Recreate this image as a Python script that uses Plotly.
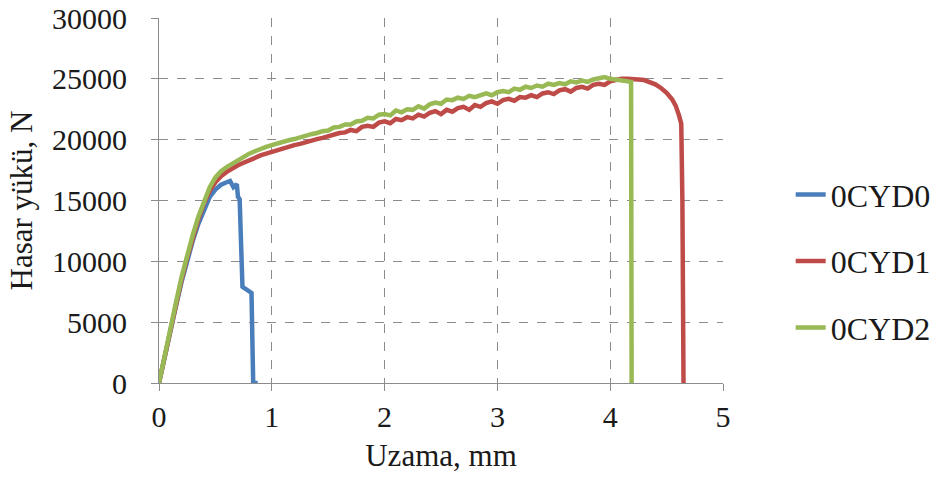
import plotly.graph_objects as go

# Elongation (mm) and failure load (N) for each specimen
x_0cyd0 = [0, 0.05, 0.1, 0.15, 0.2, 0.25, 0.3, 0.35, 0.4, 0.45, 0.5, 0.55, 0.6,
           0.63, 0.66, 0.69, 0.70, 0.715, 0.74, 0.80, 0.82, 0.835, 0.875]
y_0cyd0 = [0, 2200, 4300, 6300, 8300, 10100, 11700, 13100, 14300, 15300, 15900, 16300, 16500,
           16600, 16100, 16350, 15300, 15100, 7900, 7550, 7400, 0, 0]

x_0cyd1 = [0, 0.05, 0.1, 0.15, 0.2, 0.25, 0.3, 0.35, 0.4, 0.45, 0.5, 0.55, 0.6, 0.65, 0.7,
           0.75, 0.8, 0.85, 0.9, 0.95,
           1.00, 1.05, 1.10, 1.15, 1.20, 1.25, 1.30, 1.35, 1.40, 1.45,
           1.50, 1.55, 1.60, 1.65, 1.70, 1.75, 1.80, 1.85, 1.90, 1.95,
           2.00, 2.05, 2.10, 2.15, 2.20, 2.25, 2.30, 2.35, 2.40, 2.45,
           2.50, 2.55, 2.60, 2.65, 2.70, 2.75, 2.80, 2.85, 2.90, 2.95,
           3.00, 3.05, 3.10, 3.15, 3.20, 3.25, 3.30, 3.35, 3.40, 3.45,
           3.50, 3.55, 3.60, 3.65, 3.70, 3.75, 3.80, 3.85, 3.90, 3.95,
           4.00, 4.05, 4.10, 4.15, 4.20, 4.25, 4.30, 4.35, 4.40, 4.45,
           4.50, 4.55, 4.58, 4.61, 4.63, 4.64, 4.65]
y_0cyd1 = [0, 2200, 4400, 6500, 8500, 10300, 12000, 13500, 14800, 15800, 16500, 17000, 17350, 17650, 17900,
           18100, 18330, 18550, 18700, 18850,
           19000, 19150, 19300, 19400, 19550, 19650, 19800, 19900, 20050, 20150,
           20300, 20400, 20550, 20600, 20800, 20700, 21050, 21150, 21050, 21400,
           21500, 21350, 21700, 21600, 21850, 21750, 22050, 21900, 22200, 22350,
           22100, 22450, 22300, 22600, 22700, 22450, 22850, 22700, 23000, 23150,
           22950, 23250, 23350, 23200, 23500, 23450, 23650, 23500, 23800, 23900,
           23750, 24050, 24150, 23950, 24250, 24350, 24200, 24500, 24600, 24500,
           24800, 24900, 25000, 25000, 25000, 24950, 24900, 24750, 24550, 24250,
           23850, 23300, 22800, 22000, 21300, 15000, 0]

x_0cyd2 = [0, 0.05, 0.1, 0.15, 0.2, 0.25, 0.3, 0.35, 0.4, 0.45, 0.5, 0.55, 0.6, 0.65, 0.7,
           0.75, 0.8, 0.85, 0.9, 0.95,
           1.00, 1.05, 1.10, 1.15, 1.20, 1.25, 1.30, 1.35, 1.40, 1.45,
           1.50, 1.55, 1.60, 1.65, 1.70, 1.75, 1.80, 1.85, 1.90, 1.95,
           2.00, 2.05, 2.10, 2.15, 2.20, 2.25, 2.30, 2.35, 2.40, 2.45,
           2.50, 2.55, 2.60, 2.65, 2.70, 2.75, 2.80, 2.85, 2.90, 2.95,
           3.00, 3.05, 3.10, 3.15, 3.20, 3.25, 3.30, 3.35, 3.40, 3.45,
           3.50, 3.55, 3.60, 3.65, 3.70, 3.75, 3.80, 3.85, 3.90, 3.95,
           4.00, 4.05, 4.10, 4.15, 4.185, 4.19]
y_0cyd2 = [0, 2300, 4500, 6600, 8700, 10500, 12200, 13700, 15000, 16100, 16900, 17400, 17750, 18050, 18300,
           18600, 18850, 19050, 19250, 19400,
           19550, 19700, 19800, 19950, 20050, 20200, 20300, 20450, 20550, 20700,
           20750, 21000, 21050, 21250, 21250, 21500, 21550, 21800, 21750, 22050,
           22100, 22000, 22400, 22250, 22500, 22450, 22750, 22550, 22900, 23050,
           22950, 23300, 23250, 23450, 23350, 23600, 23500, 23700, 23800, 23650,
           23900, 24000, 23900, 24200, 24100, 24350, 24250, 24450, 24350, 24600,
           24500, 24650, 24550, 24800, 24700, 24850, 24750, 24950, 25050, 25150,
           25000, 24950, 24850, 24800, 24750, 0]

series_names = ["0CYD0", "0CYD1", "0CYD2"]
series_colors = ["#4A7EBB", "#BE4B48", "#98B954"]

x_ticks = [0, 1, 2, 3, 4, 5]
y_ticks = [0, 5000, 10000, 15000, 20000, 25000, 30000]

FONT = "Liberation Serif"
GRID = "#8C8C8C"
TEXT = "#1a1a1a"

fig = go.Figure()
for name, xs, ys, col in zip(series_names,
                             [x_0cyd0, x_0cyd1, x_0cyd2],
                             [y_0cyd0, y_0cyd1, y_0cyd2],
                             series_colors):
    fig.add_trace(go.Scatter(x=xs, y=ys, mode="lines", name=name, legendgroup=name,
                             line=dict(color=col, width=4.5)))

axis_common = dict(
    showline=True, linecolor=GRID, linewidth=1,
    showgrid=True, gridcolor=GRID, griddash="dash", gridwidth=1,
    zeroline=False, ticks="outside", ticklen=7, tickcolor=GRID,
    tickfont=dict(family=FONT, size=30, color=TEXT),
    title_font=dict(family=FONT, size=31, color=TEXT),
)

fig.update_layout(
    width=939, height=490,
    margin=dict(l=159, r=216, t=18, b=107, autoexpand=False),
    paper_bgcolor="white", plot_bgcolor="white",
    font=dict(family=FONT, color=TEXT),
    xaxis=dict(range=[0, 5], tickvals=x_ticks, ticktext=[str(v) for v in x_ticks],
               title=dict(text="Uzama, mm", standoff=12), **axis_common),
    yaxis=dict(range=[0, 30000], tickvals=y_ticks, ticktext=[str(v) for v in y_ticks],
               title=dict(text="Hasar yükü, N", standoff=10), ticklabelstandoff=18,
               **axis_common),
    legend=dict(x=1.12, xanchor="left", y=0.334, yanchor="middle",
                font=dict(family=FONT, size=32, color=TEXT),
                tracegroupgap=22, bgcolor="rgba(0,0,0,0)"),
    showlegend=True,
)

fig.write_html("out.html")
